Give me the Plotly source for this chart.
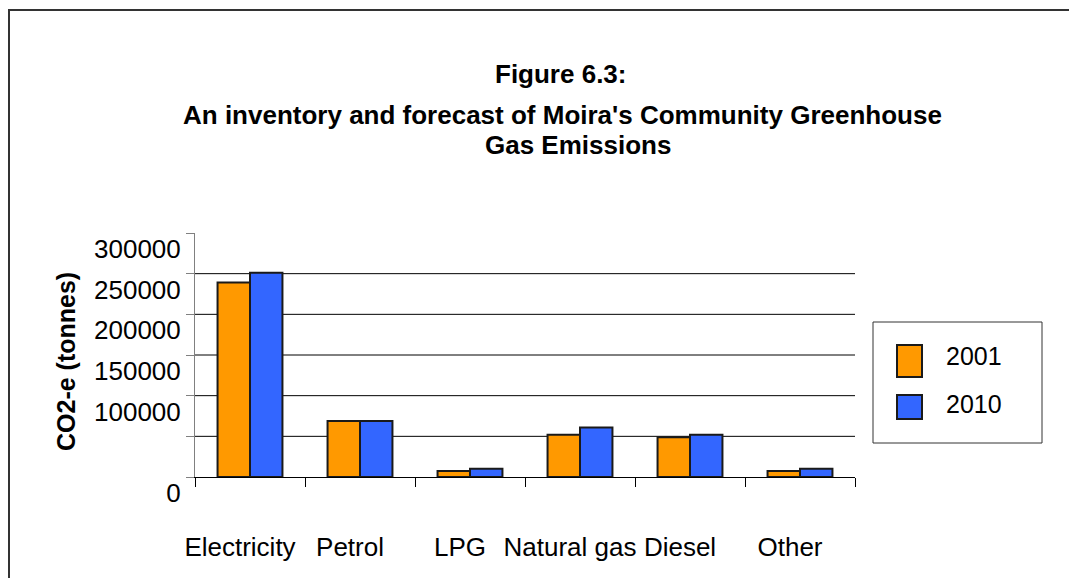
import plotly.graph_objects as go

categories = ["Electricity", "Petrol", "LPG", "Natural gas", "Diesel", "Other"]
series_names = ["2001", "2010"]
values_2001 = [239000, 69000, 7500, 52000, 49000, 7500]
values_2010 = [251000, 69000, 10000, 61000, 52000, 10000]
y_tick_values = [0, 50000, 100000, 150000, 200000, 250000, 300000]
y_tick_labels = ["0", "", "100000", "150000", "200000", "250000", "300000"]
grid_values = [50000, 100000, 150000, 200000, 250000]

OFF = 8  # page offset of the figure inside the browser page
W, H = 1077 - OFF, 578 - OFF
# plot area in page pixels
PL, PR, PT, PB = 195, 855, 233, 477
L, R, T, B = PL - OFF, PR - OFF, PT - OFF, PB - OFF
FONT = "Arial, Liberation Sans, sans-serif"
colors = ["#FF9900", "#3366FF"]


def px(x):
    return (x - PL) / (PR - PL)


def py(y):
    return (PB - y) / (PB - PT)


fig = go.Figure()
for name, vals, col in zip(series_names, [values_2001, values_2010], colors):
    fig.add_trace(go.Bar(
        x=categories, y=vals, name=name,
        marker=dict(color=col, line=dict(color="#1a1a1a", width=2)),
        showlegend=False,
    ))

shapes = []
for g in grid_values:
    shapes.append(dict(type="line", xref="paper", yref="y", x0=0, x1=1, y0=g, y1=g,
                       line=dict(color="#000000", width=1), layer="below"))
# outer chart border
shapes.append(dict(type="rect", xref="paper", yref="paper",
                   x0=px(9), x1=px(1075), y0=py(10), y1=py(620),
                   line=dict(color="#333333", width=2)))
# legend box
shapes.append(dict(type="rect", xref="paper", yref="paper",
                   x0=px(873), x1=px(1042), y0=py(322), y1=py(443),
                   line=dict(color="#333333", width=1)))
legend_swatches = [(345, 377), (395, 419)]
legend_text_y = [356, 404]
annotations = []
for (y0, y1), ty, col, name in zip(legend_swatches, legend_text_y, colors, series_names):
    shapes.append(dict(type="rect", xref="paper", yref="paper",
                       x0=px(897), x1=px(922), y0=py(y0), y1=py(y1),
                       fillcolor=col, line=dict(color="#1a1a1a", width=2)))
    annotations.append(dict(text=name, xref="paper", yref="paper", x=px(944), y=py(ty),
                            xanchor="left", yanchor="middle", showarrow=False,
                            font=dict(family=FONT, size=25, color="#000000")))

title_lines = [("Figure 6.3:", 560, 74),
               ("An inventory and forecast of Moira's Community Greenhouse", 562, 115),
               ("Gas Emissions", 578, 145)]
for txt, cx, cy in title_lines:
    annotations.append(dict(text="<b>" + txt + "</b>", xref="paper", yref="paper",
                            x=px(cx), y=py(cy), xanchor="center", yanchor="middle",
                            showarrow=False, font=dict(family=FONT, size=26, color="#000000")))

annotations.append(dict(text="<b>CO2-e (tonnes)</b>", xref="paper", yref="paper",
                        x=px(66), y=py(362), xanchor="center", yanchor="middle",
                        textangle=-90, showarrow=False,
                        font=dict(family=FONT, size=25, color="#000000")))

fig.update_layout(
    width=W, height=H, autosize=False,
    margin=dict(l=L, r=W - R, t=T, b=H - B, pad=0, autoexpand=False),
    paper_bgcolor="white", plot_bgcolor="white",
    bargap=0.41, bargroupgap=0, barmode="group",
    shapes=shapes, annotations=annotations,
    font=dict(family=FONT, color="#000000"),
)
fig.update_yaxes(range=[0, 300000], tickvals=y_tick_values, ticktext=y_tick_labels,
                 showgrid=False, zeroline=False, automargin=False,
                 showline=True, linecolor="#808080", linewidth=1,
                 ticks="outside", ticklen=8, tickcolor="#808080",
                 ticklabelshift=16,
                 tickfont=dict(family=FONT, size=26, color="#000000"))
fig.update_xaxes(showgrid=False, showline=True, linecolor="#000000", linewidth=1,
                 automargin=False, tickangle=0,
                 ticks="outside", tickson="boundaries", ticklen=9, tickcolor="#000000",
                 ticklabelstandoff=47, ticklabelshift=-10,
                 tickfont=dict(family=FONT, size=26, color="#000000"))

fig.write_html("out.html")
